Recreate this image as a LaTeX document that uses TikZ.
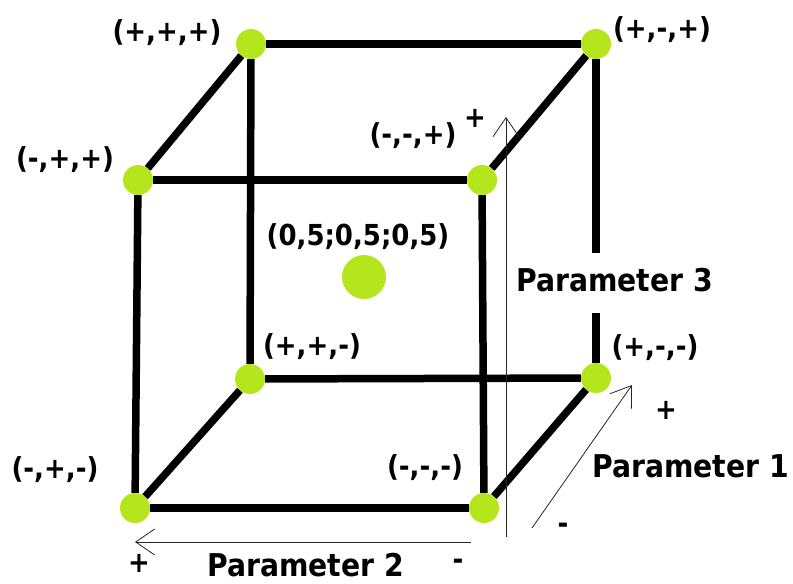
\documentclass[tikz,border=0pt]{standalone}
\usepackage{fontspec}
\setmainfont{DejaVu Sans Condensed}
\usetikzlibrary{arrows.meta}

\definecolor{paintlime}{RGB}{181,230,29}

\tikzset{
  corner/.style={circle,fill=paintlime,inner sep=0pt,minimum size=30bp},
  centre/.style={circle,fill=paintlime,inner sep=0pt,minimum size=44bp},
  edge/.style={line width=7.5bp},
  axis/.style={line width=0.8bp,draw=black!85,-{Straight Barb[length=19bp,width=26bp]}},
  lbl/.style={font=\bfseries\fontsize{29}{34}\selectfont,inner sep=0pt},
  parlbl/.style={font=\bfseries\fontsize{31.5}{36}\selectfont,inner sep=0pt,anchor=base west},
}

\begin{document}
\begin{tikzpicture}[x=1bp,y=-1bp]
\useasboundingbox (0,0) rectangle (793,584);

% corners of the cube
\node[corner] (ppp) at (251,44) {};
\node[corner] (pmp) at (596,44) {};
\node[corner] (mpp) at (138,180) {};
\node[corner] (mmp) at (482,180) {};
\node[corner] (ppm) at (250,379) {};
\node[corner] (pmm) at (596,378) {};
\node[corner] (mpm) at (135,508) {};
\node[corner] (mmm) at (484,508) {};
\node[centre] (mid) at (364,277) {};

% edges
\draw[edge] (ppp) -- (pmp);
\draw[edge] (mpp) -- (mmp);
\draw[edge] (ppm) -- (pmm);
\draw[edge] (mpm) -- (mmm);
\draw[edge] (ppp) -- (mpp);
\draw[edge] (pmp) -- (mmp);
\draw[edge] (ppm) -- (mpm);
\draw[edge] (pmm) -- (mmm);
\draw[edge] (ppp) -- (ppm);
\draw[edge] (mpp) -- (mpm);
\draw[edge] (mmp) -- (mmm);
\coordinate (gaptop) at (596,253);
\coordinate (gapbot) at (596,313);
\draw[edge] (pmp) -- (gaptop);
\draw[edge] (gapbot) -- (pmm);

% labels of the corners
\node[lbl] (tppp) at (167,33) {(+,+,+)};
\node[lbl] (tpmp) at (662,30) {(+,-,+)};
\node[lbl] (tmpp) at (65,160) {(-,+,+)};
\node[lbl] (tmmp) at (413,136) {(-,-,+)};
\node[lbl] (tmid) at (358,237) {(0,5;0,5;0,5)};
\node[lbl] (tppm) at (312,347) {(+,+,-)};
\node[lbl] (tpmm) at (655,348) {(+,-,-)};
\node[lbl] (tmpm) at (55,470) {(-,+,-)};
\node[lbl] (tmmm) at (425,468) {(-,-,-)};

% parameter axes
\coordinate (p3lo) at (506,537);
\coordinate (p3hi) at (506,117);
\coordinate (p1lo) at (532,528);
\coordinate (p1hi) at (632,385);
\coordinate (p2lo) at (471,542);
\coordinate (p2hi) at (135,542);
\draw[axis] (p3lo) -- (p3hi);
\draw[axis] (p1lo) -- (p1hi);
\draw[axis] (p2lo) -- (p2hi);

\node[parlbl] (par3) at (516,291) {Parameter 3};
\node[parlbl] (par1) at (592,477) {Parameter 1};
\node[parlbl] (par2) at (207,576) {Parameter 2};
\node[lbl] (p3plus) at (475,118) {+};
\node[lbl] (p1plus) at (666,410) {+};
\node[lbl] (p1minus) at (563,528) {-};
\node[lbl] (p2minus) at (458,564) {-};
\node[lbl] (p2plus) at (139,563) {+};

\end{tikzpicture}
\end{document}
